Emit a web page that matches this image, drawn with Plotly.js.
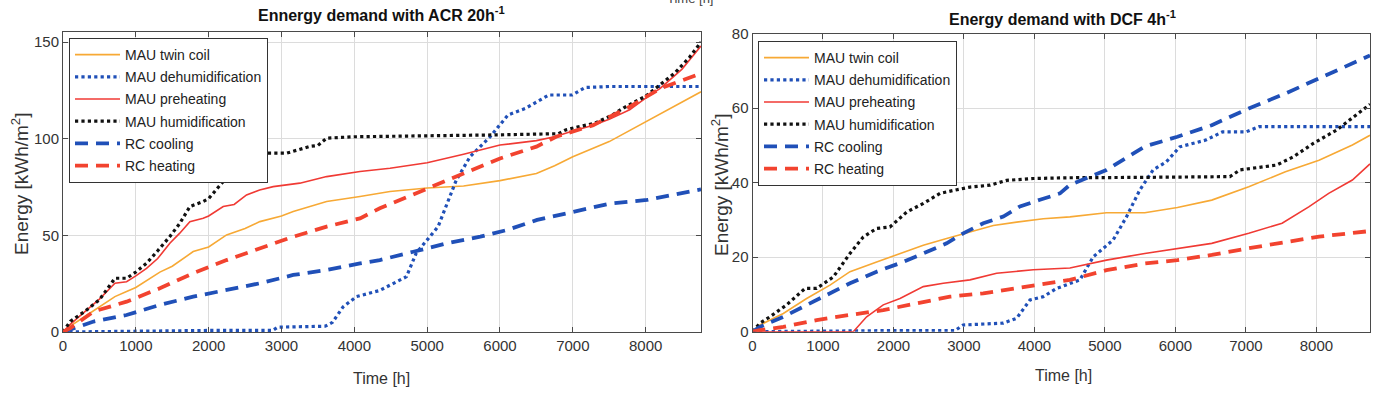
<!DOCTYPE html>
<html>
<head>
<meta charset="utf-8">
<script src="https://cdn.plot.ly/plotly-3.0.1.min.js"></script>
<style>html,body{margin:0;padding:0;background:#fff;}#chart{width:1386px;height:394px;}</style>
</head>
<body>
<div id="chart"></div>
<script>
// ---------- ACR 20 h^-1 (left panel) ----------
const acrTwinCoilT = [0,100,300,500,713,873,1000,1330,1500,1788,2000,2246,2500,2703,3000,3161,3500,3620,4078,4490,5000,5500,6000,6500,6750,7000,7500,8000,8500,8760];
const acrTwinCoilE = [0,3,8,13,18.3,20.9,23,31,34,41.6,44,50.2,53.5,57.1,60,62.3,66,67.5,70.1,72.7,74.5,75.5,78.3,82,86,90.7,98.5,108.8,119,124.3];

const acrDehumT = [0,500,1000,2000,2880,2950,3600,3700,3846,4029,4350,4715,4850,5030,5150,5400,5590,5865,6110,6350,6670,6990,7170,7500,8760];
const acrDehumE = [0,0.3,0.6,0.8,0.8,2.5,3,5,13,18.3,21.5,28.6,40.8,49.3,54.5,78.6,90.7,101,112.3,115.7,122.6,122.6,126.5,127,127];

const acrPreheatT = [0,100,300,500,713,873,1000,1147,1300,1467,1600,1742,1925,2000,2200,2350,2520,2700,2886,3252,3620,4078,4490,5000,5500,6000,6500,6750,7000,7280,7500,7780,8000,8200,8500,8760];
const acrPreheatE = [0,4,10.5,17,25.2,26,29,32.9,38,45.9,51,57.1,58.8,60,64.9,66,70.9,73.5,75.2,77,80.4,83,84.7,87.6,92,96.7,99,101,104,107,110,115,121,126,136,148];

const acrHumidT = [0,100,300,500,713,873,1000,1147,1300,1467,1600,1742,1925,2000,2200,2350,2520,2795,3070,3390,3500,3620,4000,4490,5000,6000,6800,6900,7060,7300,7530,7700,8000,8200,8400,8600,8760];
const acrHumidE = [0,5.5,10.7,16.7,27.8,27.8,31,35.6,42,49.4,56,64.9,67.5,69,77.9,81,89,92.5,92.5,96,96.5,100.3,101,101.2,101.7,102,102.6,104.5,106,108,112,116,122,127.8,134,142,150];

const acrRcCoolT = [0,420,873,1330,1788,2246,2703,3161,3620,4078,4350,4810,5270,5730,6100,6510,7015,7520,8020,8340,8760];
const acrRcCoolE = [0,5.4,8.8,14,18.3,21.7,25.2,29.5,32.1,35.5,37.2,41.5,45.9,49.3,52.8,58,62.2,66.5,68.3,70.8,73.8];

const acrRcHeatT = [0,100,420,873,1330,1788,2246,2703,3161,3620,4078,4350,5000,5500,6000,6500,6770,7280,7780,8200,8760];
const acrRcHeatE = [0,2,10.6,15.7,22.6,30.4,37.2,43.3,49.3,54.5,58.8,64,74.3,82,89.8,95.9,101,107,116.5,126,133.8];

// ---------- DCF 4 h^-1 (right panel) ----------
const dcfTwinCoilT = [0,106,437,768,1099,1383,1761,2092,2423,2754,3085,3416,3747,4125,4503,5021,5565,6028,6515,7040,7560,8037,8510,8760];
const dcfTwinCoilE = [0,1.8,4.9,8.9,12.5,16.1,18.7,21,23.2,25,26.8,28.5,29.4,30.3,30.8,31.9,31.9,33.3,35.3,38.9,42.9,46,50.1,52.7];

const dcfDehumT = [0,1000,2000,2872,2990,3558,3747,3936,4125,4314,4503,4645,4834,5116,5305,5494,5683,5872,6061,6430,6667,7000,7187,8760];
const dcfDehumE = [0,0.2,0.3,0.3,1.8,2.3,3.6,8.5,9.4,11.6,13,13.9,20.1,24.6,30.8,38,43.4,45.6,49.6,51.4,53.6,53.6,55,55];

const dcfPreheatT = [0,1000,1430,1619,1855,2092,2423,2707,3085,3463,3983,4503,5021,5565,6028,6515,7040,7513,7891,8174,8510,8760];
const dcfPreheatE = [0,0,0,4,7.2,8.9,12.1,13,13.9,15.7,16.6,17.1,19.2,21,22.4,23.7,26.4,29.1,33.5,37.1,40.7,45];

const dcfHumidT = [0,106,248,484,745,910,1147,1383,1572,1761,1950,2187,2423,2660,2849,3085,3369,3605,3983,4503,5500,6773,6915,7435,7671,7955,8286,8475,8760];
const dcfHumidE = [0,2.3,4,7.2,11.6,11.6,14.7,21,25.4,27.7,28.1,32.1,34.4,37.1,37.9,38.8,39.3,40.6,41.1,41.3,41.4,41.6,43.4,44.7,46.9,50.5,54.1,56.8,61];

const dcfRcCoolT = [0,106,437,768,1099,1383,1761,2092,2423,2754,2990,3274,3558,3794,4078,4362,4503,5021,5565,6028,6515,7040,7560,8037,8510,8760];
const dcfRcCoolE = [0,1.3,4,7.2,10.3,13,16.1,18.4,21,23.7,26.4,29.1,30.9,33.6,35.4,37.1,39.4,43.4,49.7,52.3,55.4,59.9,63.9,67.9,71.9,74.1];

const dcfRcHeatT = [0,106,437,910,1383,1855,2329,2801,3274,3747,4219,4503,5021,5565,6028,6515,7040,7560,8037,8760];
const dcfRcHeatE = [0,0.4,1.3,3.1,4.5,5.8,7.6,9.4,10.3,11.6,13,13.9,16.5,18.3,19.2,20.6,22.4,24.1,25.5,27];

// ---------- labels ----------
const seriesNames = ['MAU twin coil','MAU dehumidification','MAU preheating','MAU humidification','RC cooling','RC heating'];
const xTicks = [0,1000,2000,3000,4000,5000,6000,7000,8000];
const yTicksLeft = [0,50,100,150];
const yTicksRight = [0,20,40,60,80];

// ---------- styles ----------
const styles = [
  {color:'#F7A935', width:1.6, dash:'solid'},
  {color:'#2050B8', width:3.2, dash:'dot'},
  {color:'#F03A34', width:1.6, dash:'solid'},
  {color:'#111111', width:3.2, dash:'dot'},
  {color:'#2050B8', width:3.8, dash:'13px,8px'},
  {color:'#F2432F', width:3.8, dash:'13px,8px'}
];

const leftData = [[acrTwinCoilT,acrTwinCoilE],[acrDehumT,acrDehumE],[acrPreheatT,acrPreheatE],[acrHumidT,acrHumidE],[acrRcCoolT,acrRcCoolE],[acrRcHeatT,acrRcHeatE]];
const rightData = [[dcfTwinCoilT,dcfTwinCoilE],[dcfDehumT,dcfDehumE],[dcfPreheatT,dcfPreheatE],[dcfHumidT,dcfHumidE],[dcfRcCoolT,dcfRcCoolE],[dcfRcHeatT,dcfRcHeatE]];

const traces = [];
leftData.forEach((d,i)=>{
  traces.push({x:d[0], y:d[1], name:seriesNames[i], type:'scatter', mode:'lines',
    line:styles[i], xaxis:'x', yaxis:'y', legend:'legend', legendgroup:'L'+i});
});
rightData.forEach((d,i)=>{
  traces.push({x:d[0], y:d[1], name:seriesNames[i], type:'scatter', mode:'lines',
    line:styles[i], xaxis:'x2', yaxis:'y2', legend:'legend2', legendgroup:'R'+i});
});

const W = 1386, H = 394;
const px = v => v / W;
const py = v => (H - v) / H;
const FONT = '"Liberation Sans", Arial, sans-serif';

const axisCommon = {
  showline:true, mirror:'ticks', linecolor:'#4a4a4a', linewidth:1,
  ticks:'inside', ticklen:5, tickcolor:'#4a4a4a',
  showgrid:true, gridcolor:'#dcdcdc', gridwidth:1, zeroline:false,
  tickfont:{family:FONT, size:15, color:'#333'}
};

const legendCommon = {
  bgcolor:'#ffffff', bordercolor:'#333333', borderwidth:1,
  font:{family:FONT, size:14, color:'#222'},
  xanchor:'left', yanchor:'top', itemwidth:45, traceorder:'grouped', tracegroupgap:1
};

const layout = {
  width:W, height:H,
  margin:{l:0,r:0,t:0,b:0},
  paper_bgcolor:'#ffffff', plot_bgcolor:'#ffffff',
  showlegend:true,
  xaxis: Object.assign({}, axisCommon, {domain:[px(63), px(701)], range:[0,8760], tickvals:xTicks, anchor:'y'}),
  yaxis: Object.assign({}, axisCommon, {domain:[py(332), py(32)], range:[0,155.2], tickvals:yTicksLeft, anchor:'x'}),
  xaxis2: Object.assign({}, axisCommon, {domain:[px(752.5), px(1370)], range:[0,8760], tickvals:xTicks, anchor:'y2'}),
  yaxis2: Object.assign({}, axisCommon, {domain:[py(331.7), py(33.5)], range:[0,80], tickvals:yTicksRight, anchor:'x2'}),
  legend: Object.assign({}, legendCommon, {x:px(69), y:py(38)}),
  legend2: Object.assign({}, legendCommon, {x:px(758), y:py(41)}),
  annotations:[
    {text:'<b>Ennergy demand with ACR 20h<sup>-1</sup></b>', xref:'paper', yref:'paper', x:px(382), y:py(14), xanchor:'center', yanchor:'middle', showarrow:false, font:{family:FONT, size:16, color:'#111'}},
    {text:'<b>Energy demand with DCF 4h<sup>-1</sup></b>', xref:'paper', yref:'paper', x:px(1062), y:py(18), xanchor:'center', yanchor:'middle', showarrow:false, font:{family:FONT, size:16, color:'#111'}},
    {text:'Time [h]', xref:'paper', yref:'paper', x:px(382), y:py(378), xanchor:'center', yanchor:'middle', showarrow:false, font:{family:FONT, size:16, color:'#333'}},
    {text:'Time [h]', xref:'paper', yref:'paper', x:px(1063), y:py(375), xanchor:'center', yanchor:'middle', showarrow:false, font:{family:FONT, size:16, color:'#333'}},
    {text:'Energy [kWh/m<sup>2</sup>]', xref:'paper', yref:'paper', x:px(20), y:py(184), xanchor:'center', yanchor:'middle', textangle:-90, showarrow:false, font:{family:FONT, size:19, color:'#333'}},
    {text:'Energy [kWh/m<sup>2</sup>]', xref:'paper', yref:'paper', x:px(720), y:py(184), xanchor:'center', yanchor:'middle', textangle:-90, showarrow:false, font:{family:FONT, size:19, color:'#333'}},
    {text:'Time [h]', xref:'paper', yref:'paper', x:px(690), y:py(-1), xanchor:'center', yanchor:'middle', showarrow:false, font:{family:FONT, size:13, color:'#444'}}
  ]
};

Plotly.newPlot('chart', traces, layout, {staticPlot:true, displayModeBar:false});
</script>
</body>
</html>
